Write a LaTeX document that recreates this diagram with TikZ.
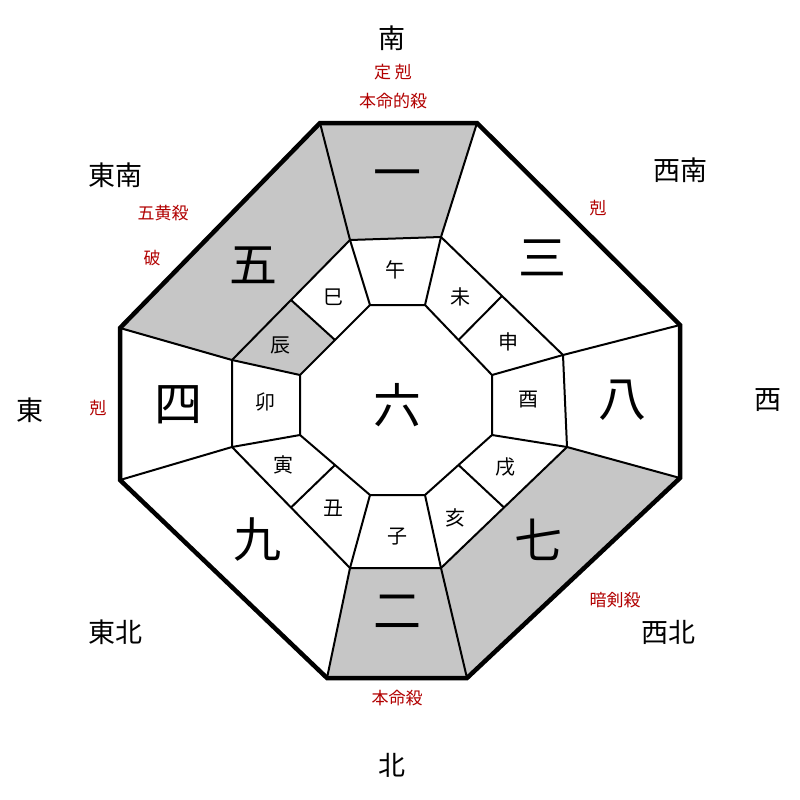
\documentclass[tikz,border=0pt]{standalone}
\usepackage{fontspec}
\setmainfont{Noto Sans CJK JP}
\usetikzlibrary{calc}
\begin{document}
\begin{tikzpicture}[x=1pt,y=-1pt,
  thin line/.style={line width=2pt,line join=round},
  thick line/.style={line width=4.5pt,line join=miter},
  shade/.style={fill=gray!45},
  big/.style={font=\fontsize{48}{48}\selectfont},
  small/.style={font=\fontsize{20}{20}\selectfont},
  dir/.style={font=\fontsize{27}{27}\selectfont},
  red/.style={font=\fontsize{17}{17}\selectfont,text=red!70!black}]
\useasboundingbox[fill=white] (0,0) rectangle (800,800);
% outer
\coordinate (O1) at (320,123); \coordinate (O2) at (477,123);
\coordinate (O3) at (680,325); \coordinate (O4) at (680,478);
\coordinate (O5) at (467,678); \coordinate (O6) at (327,678);
\coordinate (O7) at (120,480); \coordinate (O8) at (120,328);
% middle
\coordinate (M1) at (350,240); \coordinate (M2) at (441,237);
\coordinate (M3) at (563,355); \coordinate (M4) at (567,447);
\coordinate (M5) at (441,568); \coordinate (M6) at (350,568);
\coordinate (M7) at (232,447); \coordinate (M8) at (232,360);
% inner
\coordinate (I1) at (370,305); \coordinate (I2) at (425,305);
\coordinate (I3) at (492,375); \coordinate (I4) at (492,435);
\coordinate (I5) at (425,495); \coordinate (I6) at (370,495);
\coordinate (I7) at (300,435); \coordinate (I8) at (300,375);
% shading
\fill[shade] (O1)--(O2)--(M2)--(M1)--cycle;
\fill[shade] (O8)--(O1)--(M1)--(M8)--cycle;
\fill[shade] (O4)--(O5)--(M5)--(M4)--cycle;
\fill[shade] (O5)--(O6)--(M6)--(M5)--cycle;
\fill[shade] ($(M8)!0.5!(M1)$)--(M8)--(I8)--($(I8)!0.5!(I1)$)--cycle;
% lines
\draw[thin line] (M1)--(M2)--(M3)--(M4)--(M5)--(M6)--(M7)--(M8)--cycle;
\draw[thin line] (I1)--(I2)--(I3)--(I4)--(I5)--(I6)--(I7)--(I8)--cycle;
\foreach \i in {1,...,8} \draw[thin line] (O\i)--(M\i)--(I\i);
\draw[thin line] ($(M8)!0.5!(M1)$)--($(I8)!0.5!(I1)$);
\draw[thin line] ($(M2)!0.5!(M3)$)--($(I2)!0.5!(I3)$);
\draw[thin line] ($(M4)!0.5!(M5)$)--($(I4)!0.5!(I5)$);
\draw[thin line] ($(M6)!0.5!(M7)$)--($(I6)!0.5!(I7)$);
\draw[thick line] (O1)--(O2)--(O3)--(O4)--(O5)--(O6)--(O7)--(O8)--cycle;
% big
\node[big] (n1) at (397,180) {一};
\node[big] (n3) at (542,258) {三};
\node[big] (n5) at (253,265) {五};
\node[big] (n4) at (178,405) {四};
\node[big] (n8) at (622,400) {八};
\node[big] (n9) at (257,540) {九};
\node[big] (n7) at (538,540) {七};
\node[big] (n2) at (397,612) {二};
\node[big] (n6) at (397,405) {六};
% small
\node[small] (z1) at (395,270) {午};
\node[small] (z2) at (460,297) {未};
\node[small] (z3) at (508,342) {申};
\node[small] (z4) at (528,400) {酉};
\node[small] (z5) at (505,467) {戌};
\node[small] (z6) at (455,518) {亥};
\node[small] (z7) at (397,537) {子};
\node[small] (z8) at (333,508) {丑};
\node[small] (z9) at (283,465) {寅};
\node[small] (z10) at (265,402) {卯};
\node[small] (z11) at (280,345) {辰};
\node[small] (z12) at (333,297) {巳};
% directions
\node[dir] (d1) at (392,38) {南};
\node[dir] (d2) at (115,175) {東南};
\node[dir] (d3) at (680,170) {西南};
\node[dir] (d4) at (30,410) {東};
\node[dir] (d5) at (768,400) {西};
\node[dir] (d6) at (115,632) {東北};
\node[dir] (d7) at (668,632) {西北};
\node[dir] (d8) at (392,765) {北};
% red
\node[red] (r1) at (393,72) {定\ 剋};
\node[red] (r2) at (393,101) {本命的殺};
\node[red] (r3) at (163,213) {五黄殺};
\node[red] (r4) at (152,258) {破};
\node[red] (r5) at (598,208) {剋};
\node[red] (r6) at (98,408) {剋};
\node[red] (r7) at (615,600) {暗剣殺};
\node[red] (r8) at (397,698) {本命殺};
\end{tikzpicture}
\end{document}
